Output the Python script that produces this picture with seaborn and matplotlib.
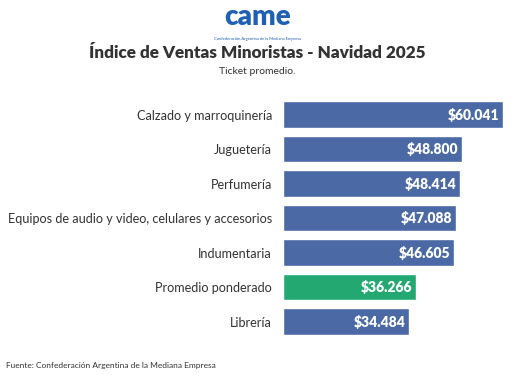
import matplotlib
matplotlib.use("Agg")
import matplotlib.pyplot as plt
import seaborn as sns
import pandas as pd

# data
categorias = ["Calzado y marroquinería", "Juguetería", "Perfumería",
              "Equipos de audio y video, celulares y accesorios",
              "Indumentaria", "Promedio ponderado", "Librería"]
ticket = [60041, 48800, 48414, 47088, 46605, 36266, 34484]
etiquetas = ["$60.041", "$48.800", "$48.414", "$47.088", "$46.605", "$36.266", "$34.484"]

df = pd.DataFrame({"rubro": categorias, "ticket": ticket})
colores = ["#22a870" if r == "Promedio ponderado" else "#4a69a5" for r in categorias]

sns.set_style("white")
plt.rcParams["font.family"] = ["Lato", "DejaVu Sans"]

fig = plt.figure(figsize=(5.15, 3.86), dpi=100)
ax = fig.add_axes([0.5495, 0.1224, 0.4272, 0.6256])

sns.barplot(data=df, y="rubro", x="ticket", hue="rubro", palette=colores,
            legend=False, width=0.76, saturation=1, ax=ax)
ax.set_xlim(0, 60041)
ax.set_xlabel("")
ax.set_ylabel("")
ax.set_xticks([])
ax.tick_params(axis="y", length=0, pad=8, labelsize=9.1, labelcolor="#333333")
sns.despine(ax=ax, left=True, bottom=True)

for i, (v, t) in enumerate(zip(ticket, etiquetas)):
    ax.annotate(t, (v, i), xytext=(-2.5, 0), textcoords="offset points",
                ha="right", va="center", color="white", fontsize=10, fontweight="heavy")

# logo and titles
fig.text(0.5, 0.955, "came", ha="center", va="center", fontsize=20,
         fontweight="heavy", color="#1f5fb4")
fig.text(0.5, 0.9, "Confederación Argentina de la Mediana Empresa", ha="center",
         va="center", fontsize=3, color="#1f5fb4")
fig.text(0.5, 0.862, "Índice de Ventas Minoristas - Navidad 2025", ha="center",
         va="center", fontsize=12.3, fontweight="heavy", color="#333333")
fig.text(0.5, 0.815, "Ticket promedio.", ha="center", va="center", fontsize=7.5,
         color="#333333")
fig.text(0.012, 0.052, "Fuente: Confederación Argentina de la Mediana Empresa",
         ha="left", va="center", fontsize=6, color="#333333")

fig.savefig("out.png", dpi=100)
